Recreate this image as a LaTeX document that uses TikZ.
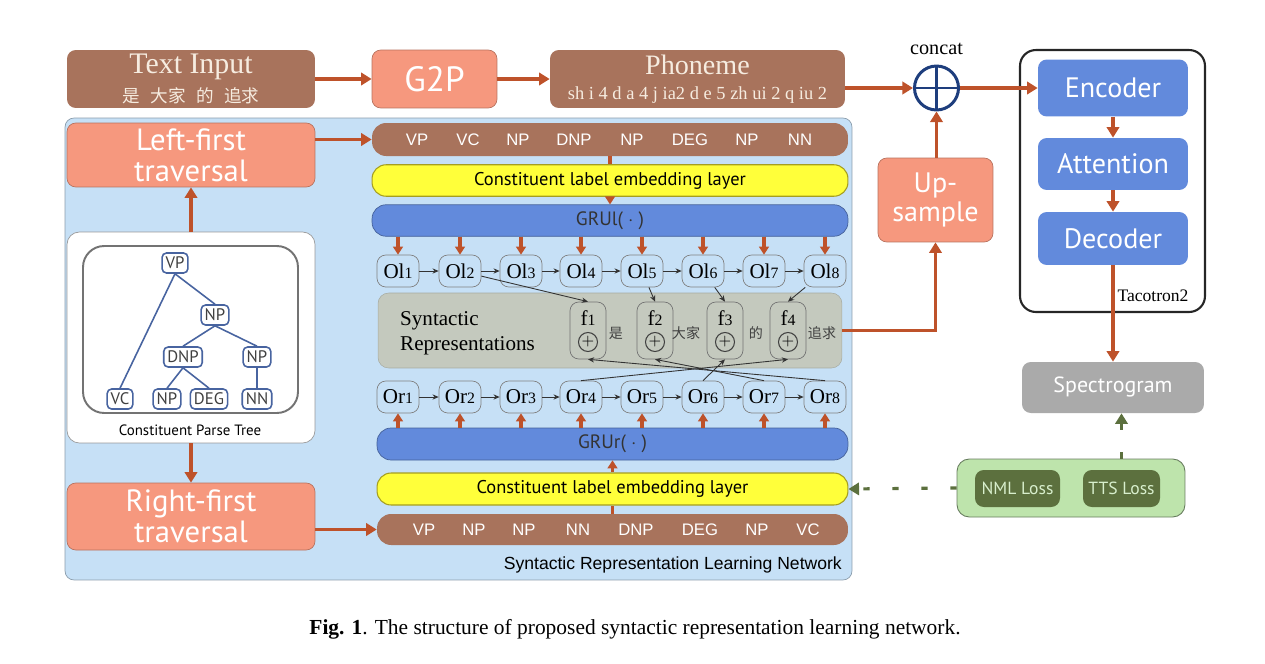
\documentclass[tikz,border=0pt]{standalone}
\usepackage{fontspec}
\setmainfont{Liberation Serif}
\setsansfont{Liberation Sans}
\newfontfamily\boxfont{PT Sans}
\newfontfamily\cjk{Noto Sans CJK SC}
\usetikzlibrary{arrows.meta,positioning}
\definecolor{tokbrown}{RGB}{168,115,92}
\definecolor{cream}{RGB}{246,236,224}
\definecolor{salmon}{RGB}{246,152,126}
\definecolor{grublue}{RGB}{98,138,220}
\definecolor{embyellow}{RGB}{255,255,58}
\definecolor{netblue}{RGB}{198,224,246}
\definecolor{repgray}{RGB}{196,201,190}
\definecolor{arrowred}{RGB}{190,82,42}
\definecolor{concatblue}{RGB}{30,62,125}
\definecolor{lossgreen}{RGB}{190,228,172}
\definecolor{lossdark}{RGB}{92,112,62}
\definecolor{specgray}{RGB}{170,170,170}
\definecolor{treeblue}{RGB}{72,100,160}
\begin{document}
\begin{tikzpicture}[x=0.02cm,y=-0.02cm,
    box/.style={rounded corners=5pt,inner sep=0pt,align=center},
    brownbox/.style={box,fill=tokbrown,text=cream},
    salmonbox/.style={box,fill=salmon,draw=salmon!75!black,line width=0.4pt,text=white,font=\boxfont\fontsize{16}{17}\selectfont},
    bluebox/.style={box,fill=grublue,text=white,minimum width=3cm,font=\boxfont\fontsize{16}{18}\selectfont},
    bar/.style={rounded corners=8pt,inner sep=0pt,minimum height=0.63cm},
    tag/.style={text=white,font=\sffamily\fontsize{9.5}{11}\selectfont,inner sep=0pt},
    cell/.style={draw=black!50,fill=netblue,rounded corners=5pt,inner sep=0pt,minimum width=0.84cm,minimum height=0.64cm,font=\fontsize{12}{14}\selectfont},
    fbox/.style={draw=black!55,rounded corners=5pt,inner sep=0pt,minimum width=0.72cm,minimum height=1.14cm},
    tnode/.style={draw=treeblue,line width=0.9pt,fill=white,rounded corners=2.5pt,inner sep=2pt,minimum height=0.4cm,font=\boxfont\fontsize{9.5}{11}\selectfont,text=black!75},
    flow/.style={draw=arrowred,line width=2pt,-{Triangle[length=6pt,width=7pt]}},
    short/.style={-{Triangle[length=4.5pt,width=5.5pt]}},
    link/.style={draw=black!80,line width=0.5pt,-{Stealth[length=3.5pt,width=3pt]}},
    lossflow/.style={draw=lossdark,line width=1.8pt,dash pattern=on 3.5pt off 13pt,-{Triangle[length=6pt,width=7pt]}}]
  \useasboundingbox (0,0) rectangle (1265,663);

  % network background
  \node[box,fill=netblue,draw=netblue!70!black,line width=0.4pt,minimum width=15.74cm,minimum height=9.24cm] (net) at (458.5,349) {};
  \node[anchor=south east,font=\sffamily\fontsize{10}{12}\selectfont] (netlbl) at (848,579) {Syntactic Representation Learning Network};

  % top line
  \node[brownbox,minimum width=4.96cm,minimum height=1.16cm] (txt) at (191,79)
    {{\fontsize{17}{18}\selectfont Text Input}\\[3pt]{\cjk\fontsize{10}{12}\selectfont 是\hspace{0.6em}大家\hspace{0.6em}的\hspace{0.6em}追求}};
  \node[salmonbox,minimum width=2.5cm,minimum height=1.16cm,font=\boxfont\fontsize{20}{22}\selectfont] (g2p) at (434.5,79) {G2P};
  \node[brownbox,minimum width=5.9cm,minimum height=1.16cm] (phon) at (697.5,79)
    {{\fontsize{16}{17}\selectfont Phoneme}\\[2pt]{\fontsize{10.5}{12}\selectfont sh i 4 d a 4 j ia2 d e 5 zh ui 2 q iu 2}};
  \node[circle,draw=concatblue,line width=1.7pt,minimum size=0.88cm,inner sep=0pt] (concat) at (936.5,88) {};
  \draw[concatblue,line width=1.7pt] (concat.north) -- (concat.south) (concat.west) -- (concat.east);
  \node[font=\fontsize{11.5}{13}\selectfont,above=2pt of concat] (concatlbl) {concat};
  \node[salmonbox,minimum width=2.3cm,minimum height=1.68cm] (ups) at (935.5,200) {Up-\\sample};

  % tacotron
  \node[box,draw=black!85,line width=1.2pt,rounded corners=9pt,minimum width=3.7cm,minimum height=5.24cm] (taco) at (1112.5,181) {};
  \node[font=\fontsize{10}{12}\selectfont] (tacolbl) at (1153,296) {Tacotron2};
  \node[bluebox,minimum height=1.14cm] (enc) at (1113,88) {Encoder};
  \node[bluebox,minimum height=1.04cm] (att) at (1113,164) {Attention};
  \node[bluebox,minimum height=1.06cm] (dec) at (1113,238.5) {Decoder};
  \node[box,fill=specgray,text=white,minimum width=3.64cm,minimum height=1.02cm,font=\boxfont\fontsize{12.5}{14}\selectfont] (spec) at (1113,387.5) {Spectrogram};
  \node[box,fill=lossgreen,draw=lossgreen!55!black,line width=0.5pt,rounded corners=7pt,minimum width=4.56cm,minimum height=1.16cm] (loss) at (1071,488) {};
  \node[box,fill=lossdark,text=lossgreen!60!white,minimum width=1.7cm,minimum height=0.74cm,font=\boxfont\fontsize{10}{12}\selectfont] (nml) at (1017.5,488.5) {NML Loss};
  \node[box,fill=lossdark,text=lossgreen!60!white,minimum width=1.54cm,minimum height=0.74cm,font=\boxfont\fontsize{10}{12}\selectfont] (tts) at (1121.5,488.5) {TTS Loss};

  % left column
  \node[salmonbox,minimum width=4.96cm,minimum height=1.28cm,font=\boxfont\fontsize{17.5}{17.5}\selectfont] (leftfirst) at (191,155) {Left-first\\traversal};
  \node[box,fill=white,draw=black!40,line width=0.4pt,rounded corners=7pt,minimum width=4.96cm,minimum height=4.22cm] (tree) at (191,337.5) {};
  \node[box,draw=black!55,line width=1.1pt,rounded corners=12pt,minimum width=4.3cm,minimum height=3.34cm] (treein) at (190.5,329.5) {};
  \node[font=\boxfont\fontsize{8.5}{10}\selectfont] (treelbl) at (190,430) {Constituent Parse Tree};
  \node[salmonbox,minimum width=4.96cm,minimum height=1.34cm,font=\boxfont\fontsize{17.5}{17.5}\selectfont] (rightfirst) at (191,516.5) {Right-first\\traversal};

  \node[tnode] (vp) at (175,263) {VP};
  \node[tnode] (np) at (215,315) {NP};
  \node[tnode] (dnp) at (183,357) {DNP};
  \node[tnode] (npb) at (257,357) {NP};
  \node[tnode] (vc) at (120,399) {VC};
  \node[tnode] (npc) at (167,399) {NP};
  \node[tnode] (deg) at (209,399) {DEG};
  \node[tnode] (nn) at (257,399) {NN};
  \draw[treeblue,line width=0.9pt] (vp.south) -- (vc.north) (vp.south) -- (np.north)
    (np.south) -- (dnp.north) (np.south) -- (npb.north)
    (dnp.south) -- (npc.north) (dnp.south) -- (deg.north) (npb) -- (nn);

  % left-first branch
  \node[brownbox,rounded corners=8pt,minimum width=9.52cm,minimum height=0.66cm] (toprow) at (610,139.5) {};
  \foreach \t/\x [count=\k] in {VP/417,VC/468,NP/518,DNP/574,NP/632,DEG/690,NP/747,NN/800}
    \node[tag] (lt\k) at (\x,140) {\t};
  \node[bar,fill=embyellow,draw=olive!80,line width=0.6pt,minimum width=9.52cm,font=\boxfont\fontsize{10.5}{12}\selectfont] (embl) at (610,180.5) {Constituent label embedding layer};
  \node[bar,fill=grublue,draw=grublue!70!black,line width=0.4pt,minimum width=9.52cm,font=\boxfont\fontsize{11}{13}\selectfont,text=black!80] (grul) at (610,220.5) {GRUl( $\cdot$ )};

  % right-first branch
  \node[bar,fill=grublue,draw=grublue!70!black,line width=0.4pt,minimum width=9.42cm,minimum height=0.64cm,font=\boxfont\fontsize{11}{13}\selectfont,text=black!80] (grur) at (612.5,444) {GRUr( $\cdot$ )};
  \node[bar,fill=embyellow,draw=olive!80,line width=0.6pt,minimum width=9.42cm,minimum height=0.64cm,font=\boxfont\fontsize{10.5}{12}\selectfont] (embr) at (612.5,489) {Constituent label embedding layer};
  \node[brownbox,rounded corners=8pt,minimum width=9.42cm,minimum height=0.62cm] (botrow) at (612.5,529.5) {};
  \foreach \t/\x [count=\k] in {VP/424,NP/474,NP/524,NN/578,DNP/636,DEG/700,NP/757,VC/808}
    \node[tag] (rt\k) at (\x,530) {\t};

  % syntactic representations
  \node[box,fill=repgray,draw=repgray!85!black,line width=0.3pt,rounded corners=6pt,minimum width=9.28cm,minimum height=1.5cm] (rep) at (610,330.5) {};
  \node[anchor=west,align=left,font=\fontsize{12}{14}\selectfont] (replbl) at (394,333) {Syntactic\\Representations};

  \foreach \x [count=\i] in {398,460,521,581,642,703,764,825} {
    \node[cell] (ol\i) at (\x,271) {Ol{\small\i}};
    \node[cell] (or\i) at (\x,397) {Or{\small\i}};
    \draw[flow,short] (ol\i |- grul.south) -- (ol\i.north);
    \draw[flow,short] (or\i |- grur.north) -- (or\i.south);
  }
  \foreach \i [evaluate=\i as \j using int(\i+1)] in {1,...,7} {
    \draw[link] (ol\i) -- (ol\j);
    \draw[link] (or\i) -- (or\j);
  }

  \foreach \x/\w/\cx [count=\i] in {588/是/616,655/大家/686,725/的/756,788/追求/822} {
    \node[fbox] (f\i) at (\x,330.5) {};
    \node[font=\fontsize{12}{14}\selectfont,inner sep=0pt] (fl\i) at (\x,318) {f{\small\i}};
    \node[circle,draw=black!75,line width=0.6pt,inner sep=0pt,minimum size=0.38cm,font=\small] (fp\i) at (\x,342) {$+$};
    \node[font=\cjk\fontsize{8}{10}\selectfont,text=black!75] (w\i) at (\cx,333) {\w};
  }
  \draw[link] (ol2) -- (f1.north);
  \draw[link] (ol5) -- (f2.north);
  \draw[link] (ol6) -- (f3.north);
  \draw[link] (ol8) -- (f4.north);
  \draw[link] (or8.north) -- (f1.south);
  \draw[link] (or7.north) -- (f2.south);
  \draw[link] (or6.north) -- (f3.south);
  \draw[link] (or4.north) -- (f4.south);

  % connectors
  \draw[flow] (txt) -- (g2p);
  \draw[flow] (g2p) -- (phon);
  \draw[flow] (phon.east |- concat) -- (concat);
  \draw[flow] (concat) -- (enc);
  \draw[flow] (concat |- ups.north) -- (concat);
  \draw[flow] (rep.east) -| (ups.south);
  \draw[flow] (enc) -- (att);
  \draw[flow] (att) -- (dec);
  \draw[flow] (dec) -- (spec);
  \draw[flow] (tree.north) -- (leftfirst.south);
  \draw[flow] (tree.south) -- (rightfirst.north);
  \draw[flow] (leftfirst.east |- toprow.west) -- (toprow.west);
  \draw[flow] (rightfirst.east |- botrow.west) -- (botrow.west);
  \draw[arrowred,line width=2pt] (toprow) -- (embl);
  \draw[flow,short] (embl) -- (grul);
  \draw[arrowred,line width=2pt] (botrow) -- (embr);
  \draw[flow,short] (embr) -- (grur);
  \draw[lossflow] (loss.west) -- (embr.east);
  \draw[lossflow] (tts |- loss.north) -- (tts |- spec.south);

  \node[font=\fontsize{12.2}{14}\selectfont] (caption) at (635,629)
    {\textbf{Fig. 1}. The structure of proposed syntactic representation learning network.};
\end{tikzpicture}
\end{document}
